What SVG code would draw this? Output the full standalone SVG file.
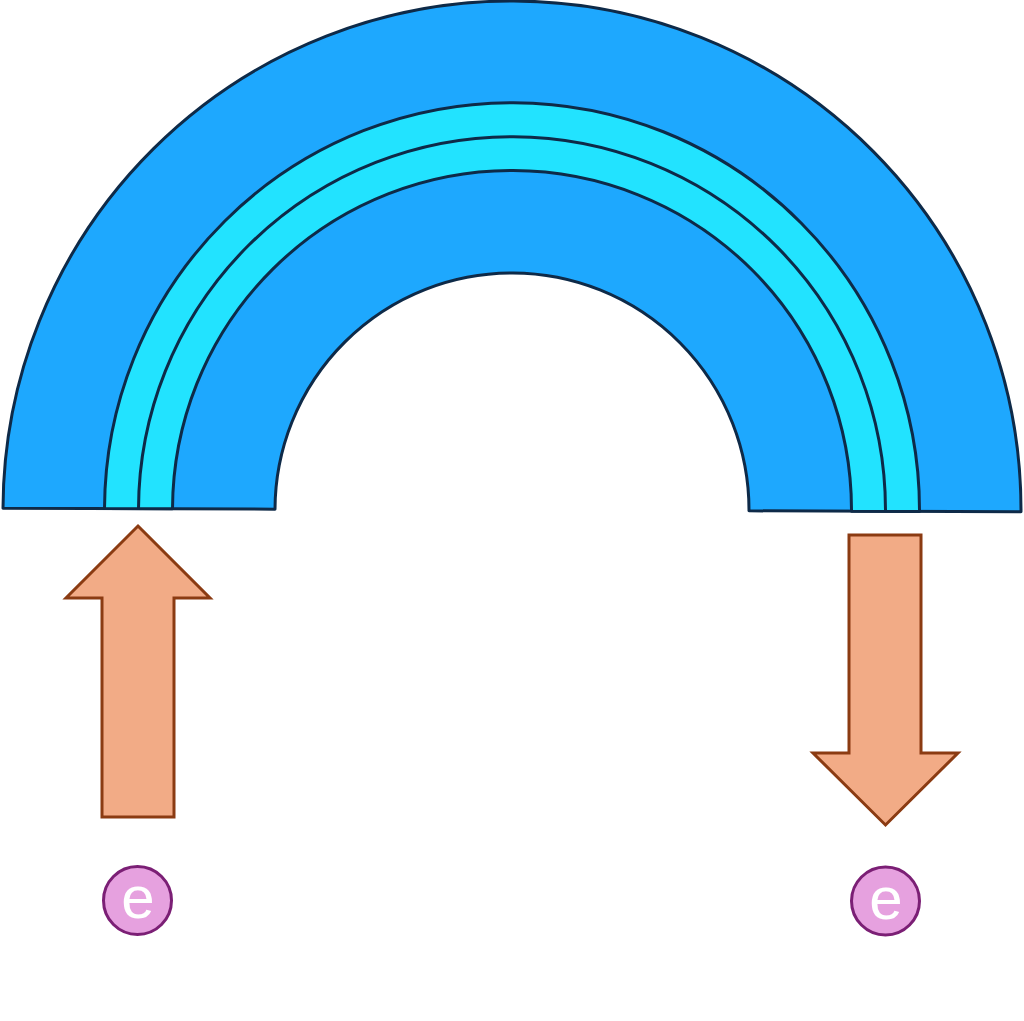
<svg xmlns="http://www.w3.org/2000/svg" width="1024" height="1021" viewBox="0 0 1024 1021">
<style>
.blue{fill:#1ea8fe;stroke:#0e2a48;stroke-width:3;stroke-linejoin:round}
.cyan{fill:#22e3ff;stroke:#0e2a48;stroke-width:3;stroke-linejoin:round}
.line{fill:none;stroke:#0e2a48;stroke-width:3}
.arrow{fill:#f2ab86;stroke:#8b3b12;stroke-width:3;stroke-linejoin:miter}
.ball{fill:#e6a1df;stroke:#7b1f75;stroke-width:3}
.lbl{fill:#ffffff;font-family:"Liberation Sans",Arial,sans-serif;font-size:60px;text-anchor:middle}
</style>
<rect width="1024" height="1021" fill="#ffffff"/>
<g id="arch" transform="rotate(0.2 512 510)">
<path class="blue" d="M3 510 A509 509 0 0 1 1021 510 L749 510 A237 237 0 0 0 275 510 Z"/>
<path class="cyan" d="M104.5 510 A407.5 407.5 0 0 1 919.5 510 L851.5 510 A339.5 339.5 0 0 0 172.5 510 Z"/>
<path class="line" d="M138.5 510 A373.5 373.5 0 0 1 885.5 510"/>
</g>
<g id="arrow-up">
<path class="arrow" d="M138 526 L210 598 L174 598 L174 817 L102 817 L102 598 L66 598 Z"/>
</g>
<g id="arrow-down">
<path class="arrow" d="M849 535 L921 535 L921 753 L958 753 L885.5 825 L813 753 L849 753 Z"/>
</g>
<g id="electron-left">
<circle class="ball" cx="137.5" cy="900.5" r="34"/>
<text class="lbl" x="138" y="918">e</text>
</g>
<g id="electron-right">
<circle class="ball" cx="885.5" cy="901" r="34"/>
<text class="lbl" x="886" y="918.5">e</text>
</g>
</svg>
